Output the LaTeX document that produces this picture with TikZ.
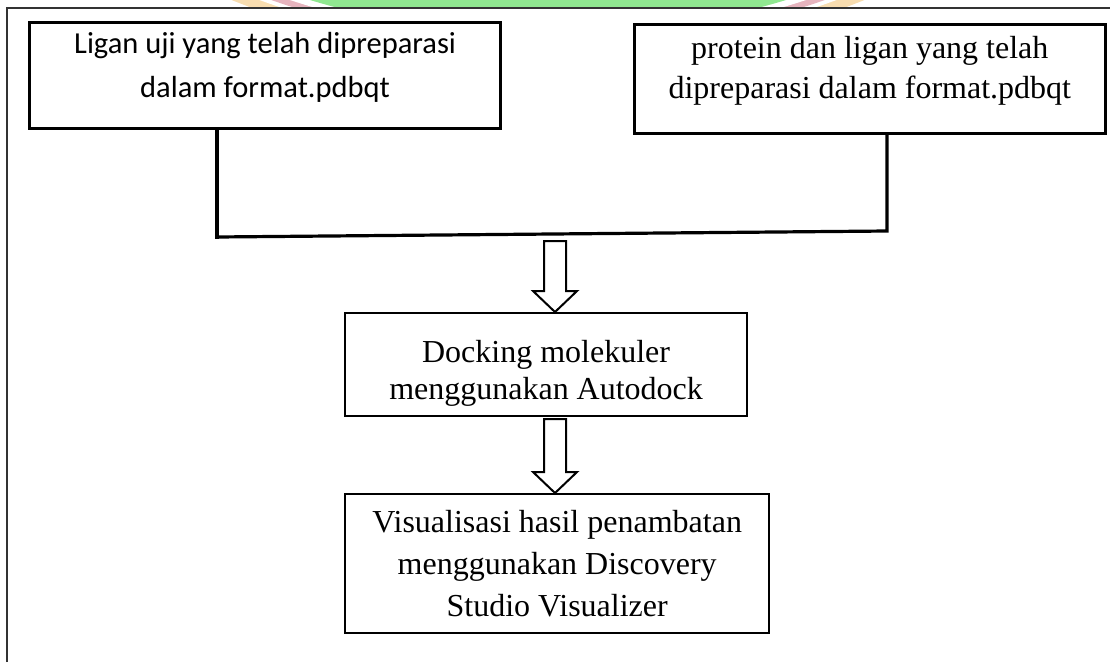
\documentclass[tikz,border=0pt]{standalone}
\usepackage{fontspec}
\setmainfont{Liberation Serif}
\newfontfamily\carlito{Carlito}
\usetikzlibrary{calc}
\definecolor{wmg}{HTML}{90E890}
\definecolor{wmp}{HTML}{E6B4BE}
\definecolor{wmy}{HTML}{F8DDB0}
\definecolor{framec}{HTML}{333333}
\newcommand\hollowarr[2]{%
  \draw[harrowst] ($(#1)+(-11,0)$) -- ($(#2)+(-11,-21)$) -- ($(#2)+(-22,-21)$) -- (#2)
    -- ($(#2)+(22,-21)$) -- ($(#2)+(11,-21)$) -- ($(#1)+(11,0)$) -- cycle;}
\begin{document}
\begin{tikzpicture}[x=1pt,y=-1pt,
  box/.style={draw=black, fill=white, rectangle, inner sep=0pt, anchor=north west},
  txt/.style={align=center, inner sep=0pt},
  harrowst/.style={draw=black, fill=white, line width=2pt, line join=miter},
  conn/.style={draw=black, line width=3.2pt}]
\useasboundingbox (0,0) rectangle (1110,662);
% watermark
\begin{scope}
  \clip (0,0) rectangle (1110,7.5);
  \fill[wmy] (548,-787) circle (848);
  \fill[white] (548,-787) circle (838);
  \fill[wmp] (548,-787) circle (834);
  \fill[white] (548,-787) circle (828);
  \fill[wmg] (548,-787) circle (822);
\end{scope}
% frame
\draw[framec, line width=1.6pt] (7,662) -- (7,8) -- (1110,8);
% boxes
\node[box, line width=3.2pt, minimum width=471pt, minimum height=106pt,
      label={[txt, yshift=8pt, font=\carlito\fontsize{30.5}{44}\selectfont]center:{Ligan uji yang telah dipreparasi\\dalam format.pdbqt}}]
      (b1) at (28,21) {};
\node[box, line width=2.6pt, minimum width=471pt, minimum height=109pt,
      label={[txt, yshift=8pt, font=\fontsize{32}{40}\selectfont]center:{protein dan ligan yang telah\\dipreparasi dalam format.pdbqt}}]
      (b2) at (633,23) {};
\node[box, line width=2.2pt, minimum width=402pt, minimum height=103pt,
      label={[txt, yshift=-9pt, font=\fontsize{32}{37}\selectfont]center:{Docking molekuler\\menggunakan Autodock}}]
      (b3) at (344,312) {};
\node[box, line width=2.4pt, minimum width=424pt, minimum height=139pt,
      label={[txt, yshift=0pt, font=\fontsize{32}{42}\selectfont]center:{Visualisasi hasil penambatan\\menggunakan Discovery\\Studio Visualizer}}]
      (b4) at (344,493) {};
% connectors
\coordinate (jl) at (217,237);
\coordinate (jr) at (887,231);
\draw[conn, line width=4.6pt] (b1.south -| jl) -- ($(jl)+(0,1.5)$);
\draw[conn] (jl) -- (jr) -- (b2.south -| jr);
\coordinate (a1s) at (555,241);
\coordinate (a1t) at (a1s |- b3.north);
\hollowarr{a1s}{a1t}
\coordinate (a2s) at ($(a1s |- b3.south)+(0,2)$);
\coordinate (a2t) at (a2s |- b4.north);
\hollowarr{a2s}{a2t}
\end{tikzpicture}
\end{document}
